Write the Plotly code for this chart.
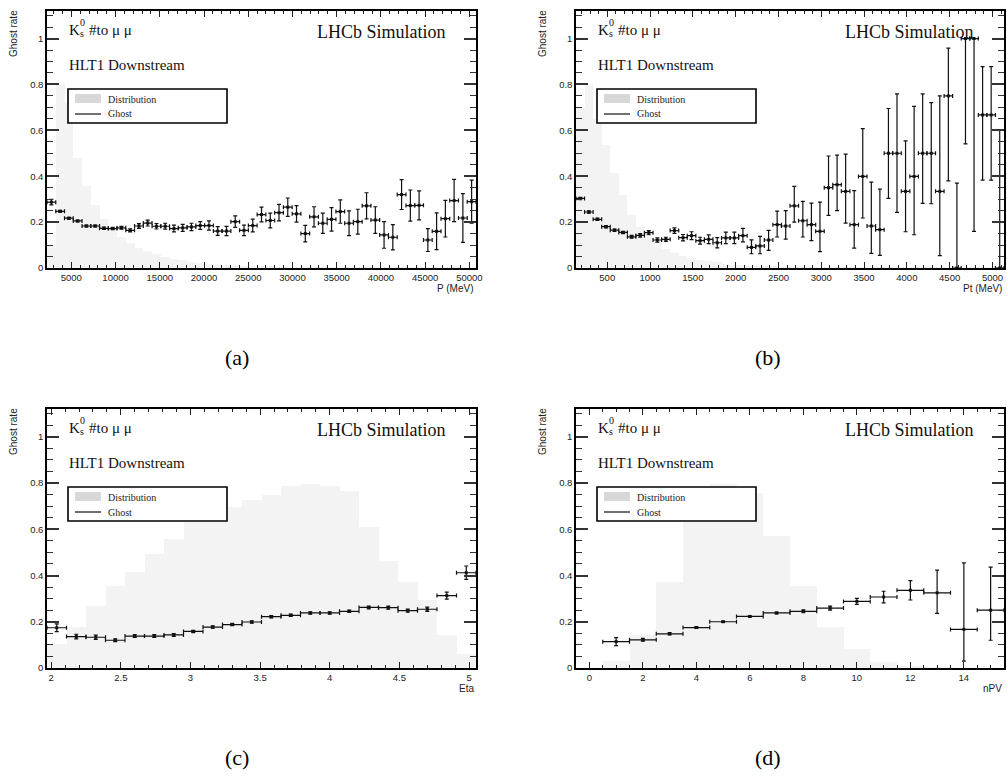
import numpy as np
import plotly.graph_objects as go

W, H = 1007, 782

# ---------------- (a) momentum ----------------
p_range = (2250, 50750)
p_nbins = 49
p_ghost = [0.287, 0.247, 0.217, 0.205, 0.183, 0.183, 0.173, 0.172, 0.175, 0.164,
           0.183, 0.196, 0.182, 0.182, 0.172, 0.175, 0.179, 0.185, 0.185, 0.161,
           0.161, 0.202, 0.164, 0.185, 0.233, 0.207, 0.241, 0.265, 0.236, 0.150,
           0.223, 0.195, 0.212, 0.246, 0.195, 0.202, 0.271, 0.209, 0.144, 0.134,
           0.320, 0.272, 0.273, 0.122, 0.160, 0.215, 0.294, 0.218, 0.289]
p_ghost_err = [0.012, 0.004, 0.004, 0.004, 0.004, 0.004, 0.005, 0.005, 0.006, 0.007,
               0.010, 0.013, 0.012, 0.013, 0.015, 0.015, 0.016, 0.017, 0.020, 0.019,
               0.020, 0.025, 0.023, 0.028, 0.032, 0.032, 0.036, 0.040, 0.036, 0.036,
               0.044, 0.044, 0.051, 0.051, 0.054, 0.054, 0.057, 0.058, 0.058, 0.055,
               0.065, 0.068, 0.063, 0.050, 0.080, 0.080, 0.092, 0.106, 0.094]
p_dist = [0.100, 0.800, 0.720, 0.478, 0.356, 0.274, 0.215, 0.165, 0.133, 0.110,
          0.089, 0.074, 0.062, 0.050, 0.041, 0.034, 0.027, 0.022, 0.018, 0.015,
          0.012, 0.010, 0.008, 0.007, 0.006, 0.005, 0.004, 0.004, 0.003, 0.003,
          0.002, 0.002, 0.002, 0.002, 0.001, 0.001, 0.001, 0.001, 0.001, 0.001,
          0.001, 0.001, 0.001, 0.001, 0.001, 0.001, 0.001, 0.001, 0.001]

# ---------------- (b) transverse momentum ----------------
pt_range = (135, 5135)
pt_nbins = 50
pt_ghost = [0.303, 0.244, 0.212, 0.180, 0.165, 0.155, 0.136, 0.142, 0.154, 0.122,
            0.125, 0.163, 0.132, 0.141, 0.119, 0.125, 0.110, 0.131, 0.131, 0.141,
            0.090, 0.096, 0.122, 0.189, 0.183, 0.271, 0.206, 0.189, 0.160, 0.350,
            0.363, 0.334, 0.189, 0.399, 0.183, 0.167, 0.500, 0.500, 0.334, 0.399,
            0.500, 0.500, 0.334, 0.750, 0.000, 1.000, 1.000, 0.667, 0.667, 0.000]
pt_ghost_up = [0.005, 0.005, 0.005, 0.005, 0.005, 0.005, 0.006, 0.008, 0.009, 0.009,
               0.009, 0.012, 0.014, 0.017, 0.015, 0.019, 0.022, 0.025, 0.025, 0.032,
               0.033, 0.042, 0.042, 0.059, 0.067, 0.085, 0.084, 0.094, 0.127, 0.138,
               0.129, 0.162, 0.148, 0.208, 0.191, 0.177, 0.195, 0.259, 0.220, 0.305,
               0.259, 0.221, 0.416, 0.208, 0.370, 0.000, 0.000, 0.211, 0.211, 0.600]
pt_ghost_lo = [0.005, 0.005, 0.005, 0.005, 0.005, 0.005, 0.006, 0.008, 0.009, 0.009,
               0.009, 0.012, 0.014, 0.017, 0.015, 0.019, 0.022, 0.025, 0.025, 0.027,
               0.028, 0.034, 0.045, 0.054, 0.057, 0.071, 0.071, 0.070, 0.089, 0.121,
               0.113, 0.138, 0.102, 0.181, 0.119, 0.112, 0.197, 0.258, 0.176, 0.254,
               0.218, 0.220, 0.280, 0.370, 0.000, 0.459, 0.840, 0.284, 0.284, 0.000]
pt_dist = [0.700, 0.800, 0.650, 0.536, 0.414, 0.319, 0.229, 0.179, 0.136, 0.114,
           0.081, 0.067, 0.053, 0.043, 0.036, 0.029, 0.024, 0.019, 0.014, 0.011,
           0.009, 0.007, 0.006, 0.005, 0.004, 0.003, 0.003, 0.002, 0.002, 0.002,
           0.001, 0.001, 0.001, 0.001, 0.001, 0.001, 0.001, 0.001, 0.001, 0.001,
           0.001, 0.001, 0.001, 0.001, 0.001, 0.001, 0.001, 0.001, 0.001, 0.001]

# ---------------- (c) pseudorapidity ----------------
eta_range = (1.97, 5.05)
eta_nbins = 22
eta_ghost = [0.174, 0.136, 0.133, 0.120, 0.138, 0.138, 0.143, 0.158, 0.177, 0.188,
             0.199, 0.222, 0.228, 0.238, 0.238, 0.245, 0.262, 0.261, 0.248, 0.254,
             0.313, 0.412]
eta_ghost_err = [0.017, 0.010, 0.009, 0.006, 0.006, 0.006, 0.006, 0.005, 0.005, 0.005,
                 0.005, 0.005, 0.005, 0.005, 0.005, 0.005, 0.006, 0.007, 0.007, 0.009,
                 0.015, 0.029]
eta_dist = [0.105, 0.178, 0.266, 0.354, 0.414, 0.494, 0.559, 0.642, 0.683, 0.696,
            0.725, 0.746, 0.786, 0.797, 0.786, 0.764, 0.609, 0.464, 0.372, 0.293,
            0.142, 0.062]

# ---------------- (d) number of primary vertices ----------------
npv_range = (-0.5, 15.5)
npv_bins = [0, 1, 2, 3, 4, 5, 6, 7, 8, 9, 10, 11, 12, 13, 14, 15]
npv_dist = [0.000, 0.029, 0.142, 0.374, 0.650, 0.797, 0.755, 0.570, 0.355, 0.178,
            0.081, 0.026, 0.006, 0.001, 0.000, 0.000]
npv_ghost_bins = [1, 2, 3, 4, 5, 6, 7, 8, 9, 10, 11, 12, 13, 14, 15]
npv_ghost = [0.114, 0.122, 0.148, 0.175, 0.200, 0.223, 0.238, 0.245, 0.259, 0.288,
             0.307, 0.336, 0.325, 0.167, 0.250]
npv_ghost_up = [0.017, 0.006, 0.005, 0.004, 0.003, 0.003, 0.004, 0.006, 0.009, 0.013,
                0.025, 0.042, 0.098, 0.288, 0.186]
npv_ghost_lo = [0.017, 0.006, 0.005, 0.004, 0.003, 0.003, 0.004, 0.006, 0.009, 0.013,
                0.025, 0.042, 0.089, 0.137, 0.130]


def centers(rng, n):
    edges = np.linspace(rng[0], rng[1], n + 1)
    return (edges[:-1] + edges[1:]) / 2, (rng[1] - rng[0]) / n


p_x, p_w = centers(p_range, p_nbins)
pt_x, pt_w = centers(pt_range, pt_nbins)
eta_x, eta_w = centers(eta_range, eta_nbins)
npv_w = 1.0

SANS = "Liberation Sans, Arial, sans-serif"
SERIF = "Liberation Serif, Times New Roman, serif"
INK = "#111111"
HIST = "#f3f3f3"

panels = [
    dict(sfx="", frame=(47, 11, 476, 268), xr=p_range, dtick=5000, minor=1000,
         xtitle="P (MeV)", caption="(a)", cap_x=237, cap_y=357,
         dist_x=p_x, dist=p_dist, w=p_w,
         gx=p_x, gy=p_ghost, up=p_ghost_err, lo=p_ghost_err),
    dict(sfx="2", frame=(576, 11, 1004, 268), xr=pt_range, dtick=500, minor=100,
         xtitle="Pt (MeV)", caption="(b)", cap_x=768, cap_y=357,
         dist_x=pt_x, dist=pt_dist, w=pt_w,
         gx=pt_x, gy=pt_ghost, up=pt_ghost_up, lo=pt_ghost_lo),
    dict(sfx="3", frame=(47, 409, 476, 668), xr=eta_range, dtick=0.5, minor=0.1,
         xtitle="Eta", caption="(c)", cap_x=237, cap_y=757,
         dist_x=eta_x, dist=eta_dist, w=eta_w,
         gx=eta_x, gy=eta_ghost, up=eta_ghost_err, lo=eta_ghost_err),
    dict(sfx="4", frame=(576, 409, 1004, 668), xr=npv_range, dtick=2, minor=0.5,
         xtitle="nPV", caption="(d)", cap_x=768, cap_y=757,
         dist_x=npv_bins, dist=npv_dist, w=npv_w,
         gx=npv_ghost_bins, gy=npv_ghost, up=npv_ghost_up, lo=npv_ghost_lo),
]


def fx(px):
    return px / W


def fy(py):
    return 1 - py / H


fig = go.Figure()
layout = dict(width=W, height=H, autosize=False,
              margin=dict(l=0, r=0, t=0, b=0),
              paper_bgcolor="white", plot_bgcolor="white",
              showlegend=False, barmode="overlay", bargap=0)
shapes, annotations = [], []

for pnl in panels:
    s = pnl["sfx"]
    L, T, R, B = pnl["frame"]
    xa, ya = "x" + s, "y" + s

    fig.add_trace(go.Bar(x=pnl["dist_x"], y=pnl["dist"], width=pnl["w"],
                         marker=dict(color=HIST, line=dict(width=0)),
                         xaxis=xa, yaxis=ya, hoverinfo="skip"))
    fig.add_trace(go.Scatter(
        x=pnl["gx"], y=pnl["gy"], mode="markers",
        marker=dict(symbol="square", size=3, color=INK),
        error_x=dict(type="constant", value=pnl["w"] / 2, thickness=1.2,
                     width=2, color=INK),
        error_y=dict(type="data", array=pnl["up"], arrayminus=pnl["lo"],
                     symmetric=False, thickness=1.2, width=2, color=INK),
        xaxis=xa, yaxis=ya, cliponaxis=False))

    layout["xaxis" + s] = dict(
        domain=[fx(L), fx(R)], range=list(pnl["xr"]), anchor=ya,
        showline=True, linecolor="black", linewidth=1.5, mirror="ticks",
        ticks="inside", ticklen=6, tickwidth=1.2, tickcolor="#222",
        tick0=0, dtick=pnl["dtick"], tickformat="d" if pnl["dtick"] >= 1 else None,
        showgrid=False, zeroline=False, automargin=False,
        tickfont=dict(family=SANS, size=9.5, color="#222"),
        minor=dict(dtick=pnl["minor"], tick0=0, ticks="inside", ticklen=3.5,
                   tickwidth=1, tickcolor="#222", showgrid=False))
    layout["yaxis" + s] = dict(
        domain=[fy(B), fy(T)], range=[0, 1.12], anchor=xa,
        showline=True, linecolor="black", linewidth=1.5, mirror="ticks",
        ticks="inside", ticklen=12, tickwidth=1.5, tickcolor="#333",
        tick0=0, dtick=0.2, showgrid=False, zeroline=False, automargin=False,
        tickfont=dict(family=SANS, size=9.5, color="#222"),
        minor=dict(dtick=0.05, tick0=0, ticks="inside", ticklen=6,
                   tickwidth=1.2, tickcolor="#333", showgrid=False))

    # axis titles
    annotations.append(dict(x=fx(L - 33), y=fy(T + 23), xref="paper", yref="paper",
                            text="Ghost rate", textangle=-90, showarrow=False,
                            xanchor="center", yanchor="middle",
                            font=dict(family=SANS, size=10, color="#222")))
    annotations.append(dict(x=fx(R), y=fy(B + 20), xref="paper", yref="paper",
                            text=pnl["xtitle"], showarrow=False,
                            xanchor="right", yanchor="middle",
                            font=dict(family=SANS, size=10, color="#222")))

    # decay label with stacked sub/superscript
    txt = dict(xref="paper", yref="paper", showarrow=False, xanchor="left",
               yanchor="middle")
    annotations.append(dict(txt, x=fx(L + 20), y=fy(T + 18.5), text="K",
                            font=dict(family=SERIF, size=15, color=INK)))
    annotations.append(dict(txt, x=fx(L + 31), y=fy(T + 11.5), text="0",
                            font=dict(family=SERIF, size=10, color=INK)))
    annotations.append(dict(txt, x=fx(L + 31), y=fy(T + 23), text="s",
                            font=dict(family=SERIF, size=10, color=INK)))
    annotations.append(dict(txt, x=fx(L + 40), y=fy(T + 18.5), text="#to \u03bc \u03bc",
                            font=dict(family=SERIF, size=15, color=INK)))
    annotations.append(dict(txt, x=fx(L + 20), y=fy(T + 54), text="HLT1 Downstream",
                            font=dict(family=SERIF, size=15, color=INK)))
    annotations.append(dict(x=fx(R - 28), y=fy(T + 21), xref="paper", yref="paper",
                            text="LHCb Simulation", showarrow=False,
                            xanchor="right", yanchor="middle",
                            font=dict(family=SERIF, size=18, color=INK)))

    # legend box
    shapes.append(dict(type="rect", xref="paper", yref="paper",
                       x0=fx(L + 21), x1=fx(L + 180), y0=fy(T + 112), y1=fy(T + 78),
                       fillcolor="white", line=dict(color="black", width=1.6),
                       layer="above"))
    shapes.append(dict(type="rect", xref="paper", yref="paper",
                       x0=fx(L + 28), x1=fx(L + 54), y0=fy(T + 92), y1=fy(T + 83),
                       fillcolor="#d8d8d8", line=dict(width=0), layer="above"))
    shapes.append(dict(type="line", xref="paper", yref="paper",
                       x0=fx(L + 28), x1=fx(L + 54), y0=fy(T + 103), y1=fy(T + 103),
                       line=dict(color=INK, width=1.2), layer="above"))
    annotations.append(dict(txt, x=fx(L + 59), y=fy(T + 88), text="Distribution",
                            font=dict(family=SERIF, size=10, color="#222")))
    annotations.append(dict(txt, x=fx(L + 59), y=fy(T + 103), text="Ghost",
                            font=dict(family=SERIF, size=10, color="#222")))

    # sub-figure caption
    annotations.append(dict(x=fx(pnl["cap_x"]), y=fy(pnl["cap_y"]), xref="paper",
                            yref="paper", text=pnl["caption"], showarrow=False,
                            xanchor="center", yanchor="middle",
                            font=dict(family=SERIF, size=22, color="black")))

layout["shapes"] = shapes
layout["annotations"] = annotations
fig.update_layout(**layout)

# keep the page exactly the size of the figure
page_css = ("document.documentElement.style.margin='0';"
            "document.body.style.margin='0';"
            "document.documentElement.style.overflow='hidden';"
            "document.body.style.overflow='hidden';")
fig.write_html("out.html", post_script=page_css)
